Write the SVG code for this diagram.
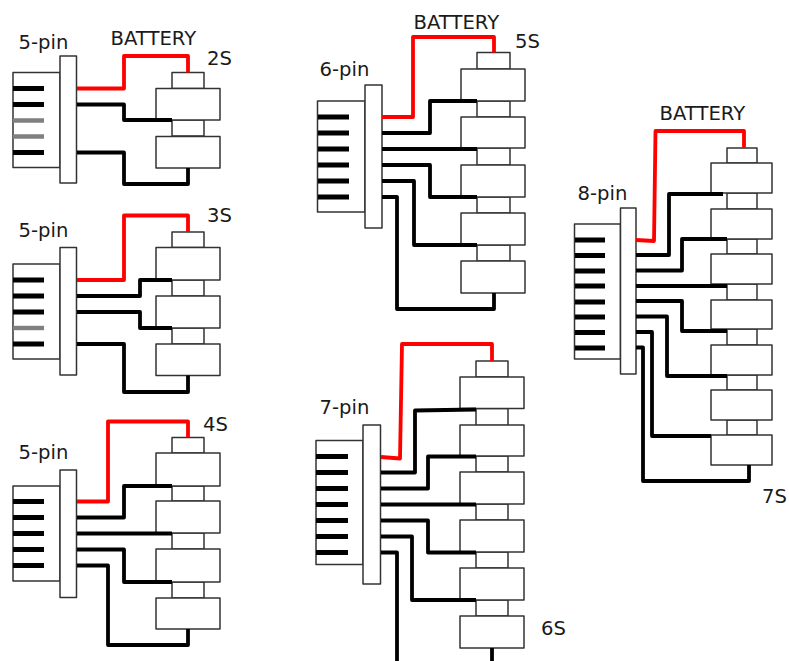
<svg xmlns="http://www.w3.org/2000/svg" width="789" height="661" viewBox="0 0 789 661">
<style>
.b{fill:#fff;stroke:#333;stroke-width:1.5;stroke-linejoin:round}
.p{stroke:#000;stroke-width:4.8}
.g{stroke:#808080;stroke-width:4.4}
.w{fill:none;stroke:#000;stroke-width:3.8;stroke-linejoin:round;stroke-linecap:butt}
.r{fill:none;stroke:#f00;stroke-width:3.8;stroke-linejoin:round;stroke-linecap:butt}
text{font-family:"DejaVu Sans",sans-serif;font-size:19.6px;fill:#1a1a1a}
</style>
<rect width="789" height="661" fill="#fff"/>

<g id="connector-a">
<rect class="b" x="13" y="72.500" width="47" height="95"/><rect class="b" x="60" y="56" width="16.500" height="127"/>
<path class="p" d="M13 88.500H44M13 104.500H44M13 152.500H44"/><path class="g" d="M13 120.500H44M13 136.500H44"/>
<text x="18.500" y="49">5-pin</text><text x="110.500" y="44.500">BATTERY</text>
</g>
<g id="pack-2s">
<rect class="b" x="172" y="120" width="32" height="16"/><rect class="b" x="172" y="72.500" width="32" height="16"/>
<rect class="b" x="156" y="88.500" width="64" height="31.500"/><rect class="b" x="156" y="136.500" width="64" height="31.500"/>
<text x="207" y="65">2S</text>
</g>

<g id="connector-b">
<rect class="b" x="13" y="264" width="47" height="95"/><rect class="b" x="60" y="247.500" width="16.500" height="127.500"/>
<path class="p" d="M13 280H44M13 296H44M13 312H44M13 344H44"/><path class="g" d="M13 328H44"/>
<text x="18.500" y="237">5-pin</text>
</g>
<g id="pack-3s">
<rect class="b" x="172" y="280" width="32" height="16"/><rect class="b" x="172" y="328" width="32" height="16"/><rect class="b" x="172" y="232" width="32" height="15.500"/>
<rect class="b" x="156" y="247.500" width="64" height="32.500"/><rect class="b" x="156" y="296" width="64" height="32"/><rect class="b" x="156" y="344" width="64" height="31.500"/>
<text x="207" y="222">3S</text>
</g>

<g id="connector-c">
<rect class="b" x="13" y="486" width="47" height="95"/><rect class="b" x="60" y="470" width="16.500" height="127.500"/>
<path class="p" d="M13 501.500H44M13 517.500H44M13 533.500H44M13 549.500H44M13 565.500H44"/>
<text x="18.500" y="459">5-pin</text>
</g>
<g id="pack-4s">
<rect class="b" x="172" y="486" width="32" height="15"/><rect class="b" x="172" y="533" width="32" height="16"/><rect class="b" x="172" y="582" width="32" height="16"/><rect class="b" x="172" y="437.500" width="32" height="15.500"/>
<rect class="b" x="156" y="453" width="64" height="33"/><rect class="b" x="156" y="501" width="64" height="32"/><rect class="b" x="156" y="549" width="64" height="33"/><rect class="b" x="156" y="598" width="64" height="31"/>
<text x="203" y="431">4S</text>
</g>

<g id="connector-d">
<rect class="b" x="317.500" y="101" width="47.500" height="111"/><rect class="b" x="365" y="85" width="17" height="143"/>
<path class="p" d="M318 117H349M318 133H349M318 149H349M318 165H349M318 181H349M318 197H349"/>
<text x="319.500" y="76">6-pin</text><text x="413.500" y="29">BATTERY</text>
</g>
<g id="pack-5s">
<rect class="b" x="477" y="101" width="33" height="16"/><rect class="b" x="477" y="148" width="33" height="17"/><rect class="b" x="477" y="197" width="33" height="16"/><rect class="b" x="477" y="245" width="33" height="16"/><rect class="b" x="477" y="52.500" width="33" height="16.500"/>
<rect class="b" x="461" y="69" width="64" height="32"/><rect class="b" x="461" y="117" width="64" height="31"/><rect class="b" x="461" y="165" width="64" height="32"/><rect class="b" x="461" y="213" width="64" height="32"/><rect class="b" x="461" y="261" width="64" height="32"/>
<text x="515" y="48">5S</text>
</g>

<g id="connector-e">
<rect class="b" x="316" y="440.500" width="47" height="124"/><rect class="b" x="363" y="425" width="17.500" height="159"/>
<path class="p" d="M316 456.500H348M316 472.500H348M316 488.500H348M316 504.500H348M316 520.500H348M316 536.500H348M316 552.500H348"/>
<text x="319.500" y="413.500">7-pin</text>
</g>
<g id="pack-6s">
<rect class="b" x="476" y="408.500" width="32" height="17"/><rect class="b" x="476" y="456" width="32" height="16"/><rect class="b" x="476" y="504" width="32" height="16"/><rect class="b" x="476" y="552" width="32" height="16"/><rect class="b" x="476" y="600" width="32" height="16"/><rect class="b" x="476" y="361" width="32" height="16"/>
<rect class="b" x="460" y="377" width="64" height="31.500"/><rect class="b" x="460" y="425" width="64" height="31"/><rect class="b" x="460" y="472" width="64" height="32"/><rect class="b" x="460" y="520" width="64" height="32"/><rect class="b" x="460" y="568" width="64" height="32"/><rect class="b" x="460" y="616" width="64" height="32"/>
<text x="541" y="635">6S</text>
</g>

<g id="connector-f">
<rect class="b" x="574.500" y="224" width="46" height="135"/><rect class="b" x="620.500" y="208" width="15.500" height="166"/>
<path class="p" d="M575 240H605M575 255.500H605M575 271H605M575 286H605M575 302H605M575 317H605M575 332.500H605M575 348H605"/>
<text x="577.500" y="200">8-pin</text><text x="659.500" y="120">BATTERY</text>
</g>
<g id="pack-7s">
<rect class="b" x="727" y="193" width="30" height="16"/><rect class="b" x="727" y="239" width="30" height="15"/><rect class="b" x="727" y="284" width="30" height="16"/><rect class="b" x="727" y="329" width="30" height="16"/><rect class="b" x="727" y="375" width="30" height="15"/><rect class="b" x="727" y="420" width="30" height="15"/><rect class="b" x="727" y="148" width="30" height="15"/>
<rect class="b" x="711" y="163" width="61" height="30"/><rect class="b" x="711" y="209" width="61" height="30"/><rect class="b" x="711" y="254" width="61" height="30"/><rect class="b" x="711" y="300" width="61" height="29"/><rect class="b" x="711" y="345" width="61" height="30"/><rect class="b" x="711" y="390" width="61" height="30"/><rect class="b" x="711" y="435" width="61" height="30"/>
<text x="762" y="503">7S</text>
</g>

<g id="connectors">
<path class="r" d="M77 88.500H124V56H188V72.500"/>
<path class="w" d="M77 104.500H124V120H172"/>
<path class="w" d="M77 152.500H124V184H188V168"/>

<path class="r" d="M77 280H124V215.500H188V232"/>
<path class="w" d="M77 296H140V280H172"/>
<path class="w" d="M77 312H140V328H172"/>
<path class="w" d="M77 344H124V392H188V375.500"/>

<path class="r" d="M77 501.500H108V421.500H188V437.500"/>
<path class="w" d="M77 517.500H124V486H172"/>
<path class="w" d="M77 533.500H172"/>
<path class="w" d="M77 549.500H124V582H172"/>
<path class="w" d="M77 565.500H108V645H188V629"/>

<path class="r" d="M382 117H413V37H494V52.500"/>
<path class="w" d="M382 133H430V101H477"/>
<path class="w" d="M382 149H477"/>
<path class="w" d="M382 165H430V197H477"/>
<path class="w" d="M382 181H414V245H477"/>
<path class="w" d="M382 197H397V309H494V293"/>

<path class="r" d="M381 457L400 458.500L402 344H492V361"/>
<path class="w" d="M381 472.500H415V410.500L476 409.500"/>
<path class="w" d="M381 488.500H428V456.500H476"/>
<path class="w" d="M381 504.500H476"/>
<path class="w" d="M381 520.500H428V552.500H476"/>
<path class="w" d="M381 536.500H412V600H476"/>
<path class="w" d="M381 552.500H397V661"/>
<path class="w" d="M492 648V661"/>

<path class="r" d="M636 240L654 241L655.500 131H744V148"/>
<path class="w" d="M636 255H669V194H723"/>
<path class="w" d="M636 270.500H682V239H727"/>
<path class="w" d="M636 286H727"/>
<path class="w" d="M636 301H682V331H727"/>
<path class="w" d="M636 316.500H667V376H727"/>
<path class="w" d="M636 332H652V436H711"/>
<path class="w" d="M636 347.500H643V481H749V465"/>
</g>
</svg>
